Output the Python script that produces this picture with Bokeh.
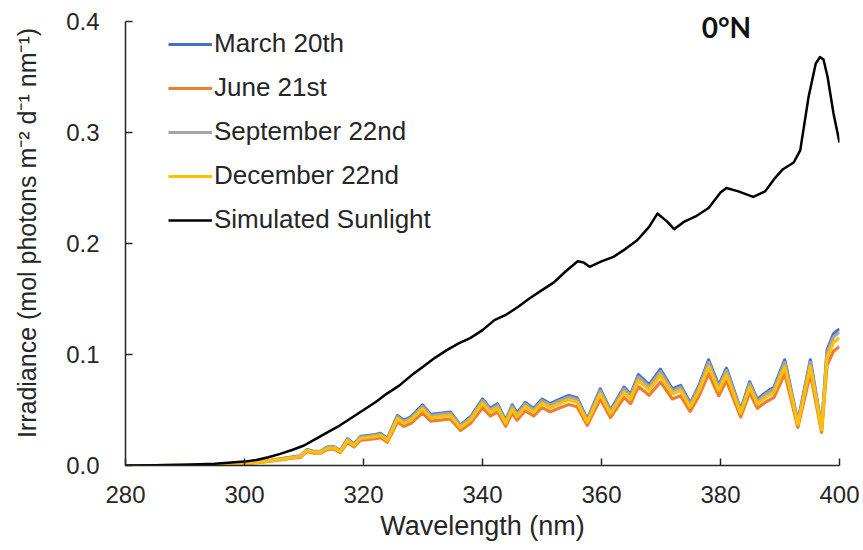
from bokeh.plotting import figure
from bokeh.models import Range1d, Legend, LegendItem, Label, SingleIntervalTicker, PrintfTickFormatter
from bokeh.embed import file_html
from bokeh.resources import INLINE

# ---- data ----
wl_sim = [280, 285, 290, 295, 300, 302, 304, 306, 308, 310, 312, 314, 316, 318, 320, 322, 324, 326,
          328, 330, 332, 334, 336, 338, 340, 342, 344, 346, 348, 350, 352, 354, 356, 357, 358, 360,
          362, 364, 366, 368, 369.4, 371, 372.2, 374, 376, 378, 380, 381, 383, 385.5, 387.5, 389,
          390.5, 392.3, 393.4, 394.8, 396, 396.7, 397.3, 398, 399, 400]
sim = [0.0, 0.0003, 0.0007, 0.0015, 0.0035, 0.005, 0.0075, 0.0105, 0.014, 0.018, 0.024, 0.030,
       0.036, 0.043, 0.050, 0.057, 0.065, 0.072, 0.081, 0.089, 0.097, 0.104, 0.110, 0.115, 0.122,
       0.131, 0.136, 0.143, 0.151, 0.158, 0.165, 0.175, 0.184, 0.183, 0.179, 0.184, 0.188, 0.195,
       0.203, 0.215, 0.227, 0.220, 0.213, 0.220, 0.225, 0.232, 0.246, 0.250, 0.247, 0.242, 0.247,
       0.258, 0.267, 0.273, 0.284, 0.332, 0.362, 0.368, 0.366, 0.350, 0.317, 0.291]

wl = [280, 285, 290, 295, 299, 302.7, 306, 308, 309.4, 310.5, 311.5, 312.8, 313.9, 315, 316.1,
      317.3, 318.4, 319.5, 320.5, 322, 322.9, 324, 325.7, 326.8, 328, 329.9, 331.3, 332.9, 334.6,
      336.3, 338.0, 340.0, 341.3, 342.5, 343.9, 345.0, 345.8, 347.2, 348.6, 350.0, 351.4, 352.6,
      354.5, 355.9, 357.6, 359.8, 361.5, 363.8, 364.9, 366.2, 368.0, 369.9, 371.9, 373.3, 374.9,
      376.4, 378.0, 379.7, 381.0, 383.4, 384.9, 386.2, 387.6, 389.0, 390.8, 393.0, 395.1, 397.0,
      397.9, 399.0, 400.0]
december = [0, 0, 0.0002, 0.0006, 0.0015, 0.003, 0.0055, 0.007, 0.008, 0.0135, 0.012, 0.012, 0.0155,
            0.016, 0.0125, 0.0225, 0.018, 0.0245, 0.025, 0.026, 0.027, 0.0225, 0.042, 0.038, 0.041,
            0.051, 0.043, 0.044, 0.045, 0.034, 0.041, 0.056, 0.048, 0.052, 0.038, 0.051, 0.044, 0.053,
            0.048, 0.056, 0.052, 0.055, 0.059, 0.057, 0.039, 0.0645, 0.0465, 0.066, 0.060, 0.0765,
            0.068, 0.081, 0.0645, 0.0675, 0.0525, 0.0675, 0.089, 0.0675, 0.082, 0.047, 0.0705, 0.0555,
            0.0615, 0.066, 0.089, 0.037, 0.089, 0.032, 0.097, 0.111, 0.115]
march = [0, 0, 0.0002, 0.0006, 0.0016, 0.0032, 0.0059, 0.0075, 0.0086, 0.0144, 0.0128, 0.0128, 0.0166,
         0.0171, 0.0134, 0.0241, 0.0193, 0.0262, 0.0268, 0.0278, 0.0289, 0.0241, 0.0449, 0.0407, 0.0439,
         0.0546, 0.046, 0.0471, 0.0482, 0.0364, 0.0439, 0.0599, 0.0514, 0.0556, 0.0407, 0.0546, 0.0471,
         0.0567, 0.0514, 0.0599, 0.0556, 0.0589, 0.0631, 0.061, 0.0417, 0.069, 0.0498, 0.0706, 0.0642,
         0.0819, 0.0728, 0.0867, 0.069, 0.0722, 0.0562, 0.0722, 0.0952, 0.0722, 0.0877, 0.0503, 0.0754,
         0.0594, 0.0658, 0.0706, 0.0952, 0.0396, 0.0952, 0.0342, 0.1038, 0.1188, 0.1231]
september = [0, 0, 0.0002, 0.0006, 0.0016, 0.0031, 0.0057, 0.0073, 0.0084, 0.0141, 0.0125, 0.0125,
             0.0162, 0.0167, 0.0131, 0.0235, 0.0188, 0.0256, 0.0261, 0.0272, 0.0282, 0.0235, 0.0439,
             0.0397, 0.0428, 0.0533, 0.0449, 0.046, 0.047, 0.0355, 0.0428, 0.0585, 0.0502, 0.0543,
             0.0397, 0.0533, 0.046, 0.0554, 0.0502, 0.0585, 0.0543, 0.0575, 0.0617, 0.0596, 0.0408,
             0.0674, 0.0486, 0.069, 0.0627, 0.0799, 0.0711, 0.0846, 0.0674, 0.0705, 0.0549, 0.0705,
             0.093, 0.0705, 0.0857, 0.0491, 0.0737, 0.058, 0.0643, 0.069, 0.093, 0.0387, 0.093, 0.0334,
             0.1014, 0.116, 0.1202]
june = [0, 0, 0.0002, 0.0006, 0.0014, 0.0028, 0.0051, 0.0065, 0.0074, 0.0126, 0.0112, 0.0112, 0.0144,
        0.0149, 0.0116, 0.0209, 0.0167, 0.0228, 0.0233, 0.0242, 0.0251, 0.0209, 0.0391, 0.0353, 0.0381,
        0.0474, 0.04, 0.0409, 0.0419, 0.0316, 0.0381, 0.0521, 0.0446, 0.0484, 0.0353, 0.0474, 0.0409,
        0.0493, 0.0446, 0.0521, 0.0484, 0.0512, 0.0549, 0.053, 0.0363, 0.06, 0.0432, 0.0614, 0.0558,
        0.0711, 0.0632, 0.0753, 0.06, 0.0628, 0.0488, 0.0628, 0.0828, 0.0628, 0.0763, 0.0437, 0.0656,
        0.0516, 0.0572, 0.0614, 0.0828, 0.0344, 0.0828, 0.0298, 0.0902, 0.1032, 0.107]

labels = ["March 20th", "June 21st", "September 22nd", "December 22nd", "Simulated Sunlight"]
colors = ["#4472C4", "#ED7D31", "#A5A5A5", "#FFC000", "#000000"]
x_ticks_interval = 20
y_ticks_interval = 0.1

FONT = "Liberation Sans"

p = figure(width=863, height=550, output_backend="svg", toolbar_location=None,
           x_range=Range1d(280, 400), y_range=Range1d(0, 0.419),
           min_border_left=125, min_border_right=24, min_border_top=0, min_border_bottom=85)
p.outline_line_color = None
p.xgrid.visible = False
p.ygrid.visible = False
p.background_fill_color = "white"
p.border_fill_color = "white"

series = [march, june, september, december]
renderers = []
for ys, c in zip(series, colors[:4]):
    r = p.line(wl, ys, line_color=c, line_width=3.2, line_join="round")
    renderers.append(r)
r = p.line(wl_sim, sim, line_color=colors[4], line_width=2.5, line_join="round")
renderers.append(r)

legend = Legend(items=[LegendItem(label=l, renderers=[rr]) for l, rr in zip(labels, renderers)],
                location=(43, 230), border_line_color=None, background_fill_alpha=0,
                padding=0, spacing=13, glyph_width=44, glyph_height=30, label_height=30,
                label_standoff=2, label_text_font=FONT, label_text_font_size="26px",
                label_text_color="#262626")
p.add_layout(legend)

for ax in (p.xaxis[0], p.yaxis[0]):
    ax.axis_line_color = "#262626"
    ax.axis_line_width = 1.5
    ax.major_tick_line_color = "#262626"
    ax.major_tick_line_width = 1.5
    ax.major_tick_in = 7
    ax.major_tick_out = 0
    ax.minor_tick_line_color = None
    ax.major_label_text_font = FONT
    ax.major_label_text_font_size = "24px"
    ax.major_label_text_color = "#262626"
    ax.axis_label_text_font = FONT
    ax.axis_label_text_font_style = "normal"
    ax.axis_label_text_color = "#262626"

p.xaxis.axis_label_text_font_size = "27px"
p.yaxis.axis_label_text_font_size = "25px"
p.yaxis.bounds = (0, 0.4)
p.xaxis.ticker = SingleIntervalTicker(interval=x_ticks_interval)
p.yaxis.ticker = SingleIntervalTicker(interval=y_ticks_interval)
p.yaxis.formatter = PrintfTickFormatter(format="%.1f")
p.xaxis.major_label_standoff = 16
p.yaxis.major_label_standoff = 22
p.xaxis.axis_label = "Wavelength (nm)"
p.yaxis.axis_label = "Irradiance (mol photons m⁻² d⁻¹ nm⁻¹)"
p.xaxis.axis_label_standoff = 5
p.yaxis.axis_label_standoff = 22

title = Label(x=381, y=0.395, text="0°N", text_font="Lato", text_font_style="bold",
              text_font_size="28px", text_align="center", text_baseline="middle",
              text_color="#111111")
p.add_layout(title)

open("out.html", "w").write(file_html(p, INLINE))
